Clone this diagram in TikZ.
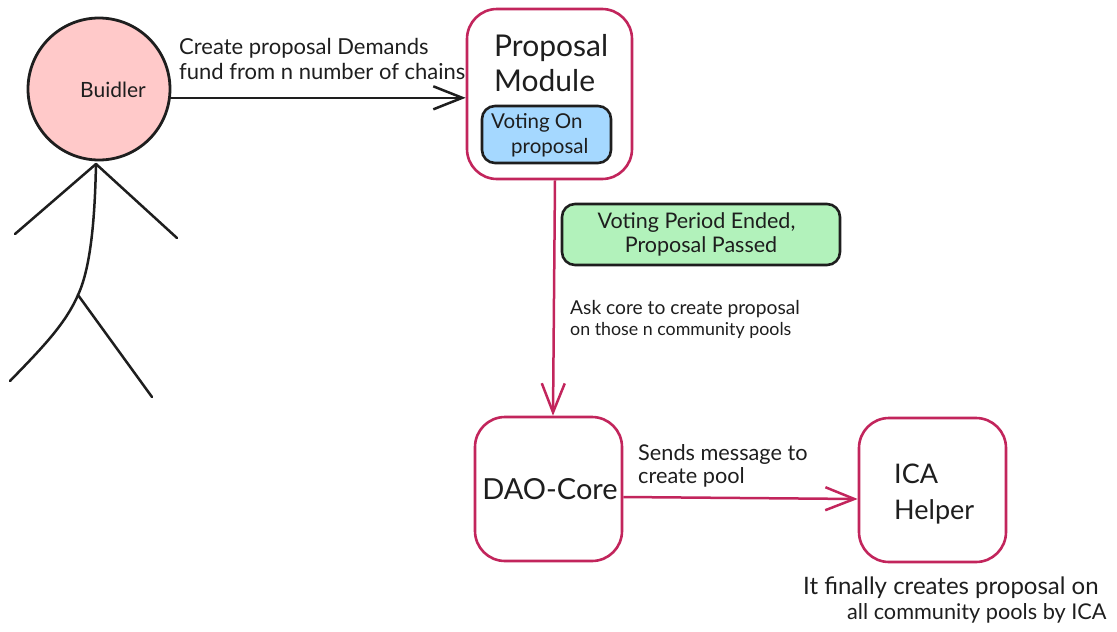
\documentclass[tikz,border=0pt]{standalone}
\usepackage{fontspec}
\setmainfont{Lato}
\usetikzlibrary{arrows.meta,calc}
\definecolor{inkc}{HTML}{1E1E1E}
\definecolor{crim}{HTML}{C2255C}
\definecolor{pinkf}{HTML}{FFC9C9}
\definecolor{bluef}{HTML}{A5D8FF}
\definecolor{greenf}{HTML}{B2F2BB}
\newcommand{\fsz}[1]{\fontsize{#1}{#1}\selectfont}
\tikzset{
  x=1pt,y=-1pt,
  box/.style={draw=crim,line width=2.6pt,fill=white,rounded corners=30pt,inner sep=0pt,align=center},
  tag/.style={draw=inkc,line width=2.6pt,rounded corners=13pt,inner sep=0pt,align=center},
  txt/.style={text=inkc,inner sep=0pt,align=left,anchor=north west},
  inkline/.style={draw=inkc,line width=2.5pt,line cap=round},
  inkarrow/.style={inkline,-{Straight Barb[length=29pt,width=23pt,line width=2.5pt]}},
  crimarrow/.style={draw=crim,line width=2.5pt,-{Straight Barb[length=29pt,width=23pt,line width=2.5pt]}},
}
\begin{document}
\begin{tikzpicture}
\useasboundingbox (0,0) rectangle (1117,632);
% boxes
\node[box,minimum width=165pt,minimum height=170pt] (proposal) at (549.5,94) {};
\node[box,minimum width=147pt,minimum height=144pt,text=inkc,font=\fsz{29}] (dao) at (548.5,489) {\hspace*{3pt}DAO-Core};
\node[box,minimum width=147pt,minimum height=144pt] (ica) at (932.5,490) {};
\node[tag,fill=bluef,minimum width=129pt,minimum height=57pt] (voting) at (546.5,134.5) {};
\node[tag,fill=greenf,minimum width=278pt,minimum height=61pt,text=inkc,font=\fontsize{21.5}{24.5}\selectfont] (passed) at (701,234.5) {Voting Period Ended,\hspace*{9pt}\\Proposal Passed};
% person
\node[circle,draw=inkc,fill=pinkf,line width=2.8pt,minimum size=142pt,inner sep=0pt] (buidler) at (99,89) {};
\coordinate (neck) at (96,164);
\coordinate (hip) at (78,295);
\coordinate (handl) at (15,234);
\coordinate (handr) at (177,238);
\coordinate (footl) at (10,381);
\coordinate (footr) at (152,397);
\draw[inkline] (neck) .. controls (95,210) and (92,265) .. (hip);
\draw[inkline] (neck) -- (handl);
\draw[inkline] (neck) -- (handr);
\draw[inkline] (hip) .. controls (65,325) and (40,350) .. (footl);
\draw[inkline] (hip) -- (footr);
% texts
\node[txt,font=\fsz{21}] (lbuidler) at (80,82) {Buidler};
\node[txt,font=\fontsize{30}{35}\selectfont] (lproposal) at (494,34) {Proposal\\Module};
\node[txt,font=\fontsize{20.5}{25}\selectfont] (lvoting) at (491,113) {Voting On\\\hspace*{20pt}proposal};
\node[txt,font=\fontsize{22}{25}\selectfont] (lcreate) at (179,38) {Create proposal Demands\\fund from n number of chains};
\node[txt,font=\fontsize{19.2}{21}\selectfont] (lask) at (570,300) {Ask core to create proposal\\\fontsize{17.8}{21}\selectfont on those n community pools};
\node[txt,font=\fontsize{21.7}{23}\selectfont] (lsends) at (638,444) {Sends message to\\create pool};
\node[txt,font=\fontsize{27}{36}\selectfont] (lica) at (894,464) {ICA\\Helper};
\node[txt,font=\fontsize{24}{25}\selectfont] (lfinal) at (803,577) {It finally creates proposal on\\\hspace*{44pt}\fontsize{21.7}{25}\selectfont all community pools by ICA};
% connectors
\draw[inkarrow] (buidler.-7.5) -- (proposal.west |- buidler.-7.5);
\draw[crimarrow] ($(proposal.south)+(5.5,0)$) -- ($(dao.north)+(4.5,0)$);
\draw[crimarrow] ($(dao.east)+(0,8)$) -- ($(ica.west)+(0,9)$);
\end{tikzpicture}
\end{document}
